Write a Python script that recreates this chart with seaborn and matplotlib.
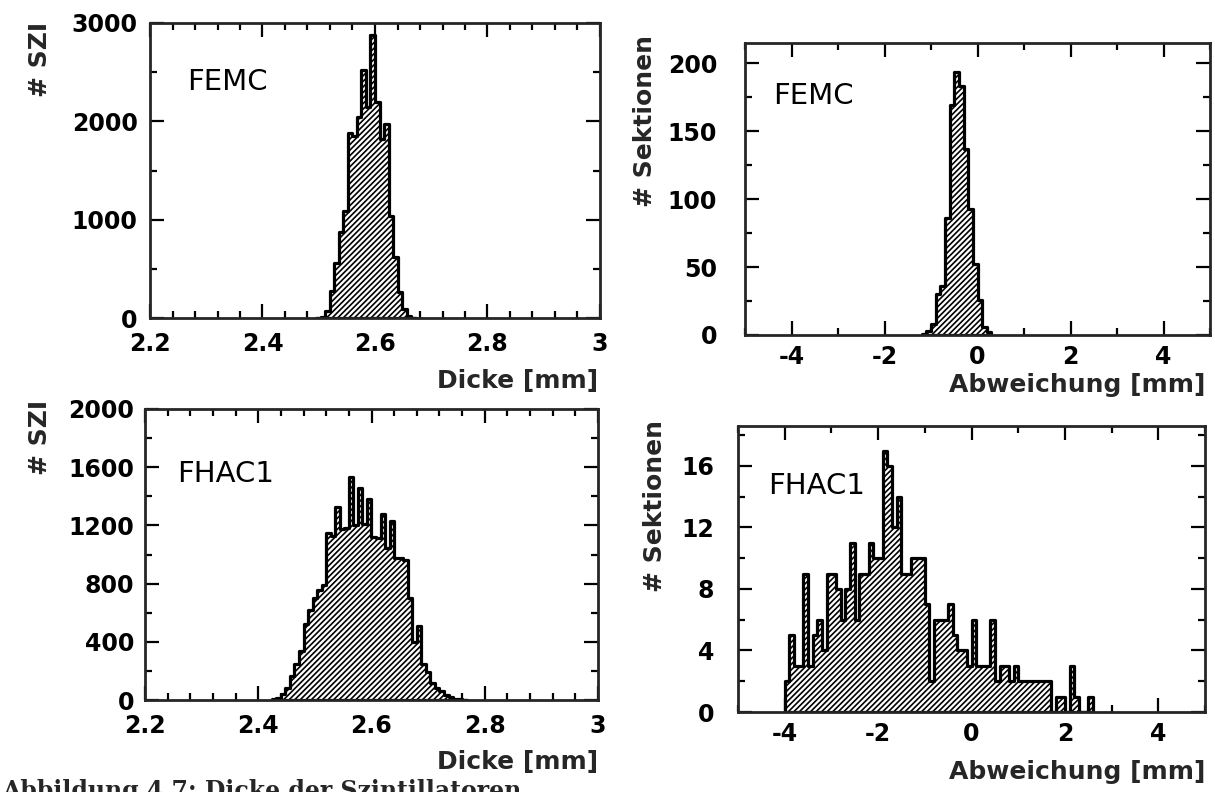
import numpy as np
import pandas as pd
import matplotlib
matplotlib.use("Agg")
import matplotlib.pyplot as plt
from matplotlib.ticker import MultipleLocator, FuncFormatter
import seaborn as sns

# histogram binning (100 bins over the axis range)
DICKE_BIN = 0.008
ABW_BIN = 0.1

# FEMC: thickness of the scintillators, counts per bin starting at femc_dicke_start
femc_dicke_start = 2.496
femc_dicke_counts = [0, 15, 70, 270, 560, 870, 1090, 1880, 1850, 2040, 2520, 2150,
                     2880, 2200, 1820, 1970, 1040, 620, 260, 90, 20, 5]

# FEMC: deviation per section
femc_abw_start = -1.2
femc_abw_counts = [1, 3, 8, 30, 36, 86, 169, 194, 183, 137, 93, 52, 26, 6, 2]

# FHAC1: thickness of the scintillators
fhac_dicke_start = 2.424
fhac_dicke_counts = [5, 15, 40, 83, 165, 246, 339, 524, 617, 698, 756, 790,
                     1150, 1130, 1324, 1173, 1180, 1533, 1200, 1460, 1210, 1380,
                     1120, 1110, 1280, 1046, 1231, 976, 976, 960, 698, 396, 512,
                     250, 190, 120, 85, 60, 37, 20, 8, 4, 2]

# FHAC1: deviation per section
fhac_abw_start = -4.0
fhac_abw_counts = [2, 5, 3, 3, 9, 3, 5, 6, 4, 9, 9, 8, 6, 8, 11, 6, 9, 9, 11, 10,
                   10, 17, 16, 12, 14, 9, 9, 10, 10, 10, 7, 2, 6, 6, 6, 7, 5, 4, 4, 3,
                   6, 3, 3, 3, 6, 2, 3, 3, 2, 3, 2, 2, 2, 2, 2, 2, 2, 0, 1, 1,
                   0, 3, 1, 0, 0, 1]

sns.set_style("ticks")
plt.rcParams["font.family"] = ["DejaVu Sans"]
plt.rcParams["font.weight"] = "bold"
plt.rcParams["hatch.linewidth"] = 1.2
plt.rcParams["axes.linewidth"] = 2.0

W, H = 1215, 792
fig = plt.figure(figsize=(W / 100, H / 100), dpi=100)


def px_axes(x0, y0, x1, y1):
    # axes box given in pixel coordinates (top-left origin)
    return fig.add_axes([x0 / W, 1 - y1 / H, (x1 - x0) / W, (y1 - y0) / H])


def draw_hist(ax, start, width, counts):
    n = len(counts)
    df = pd.DataFrame({
        "x": start + width * (np.arange(n) + 0.5),
        "w": np.asarray(counts, dtype=float),
    })
    sns.histplot(data=df, x="x", weights="w", binwidth=width,
                 binrange=(start, start + width * n), element="step", fill=True,
                 facecolor="white", edgecolor="black", hatch="//////",
                 linewidth=2.3, ax=ax)


def style_axes(ax, xlim, ylim, xmaj, xmin, ymaj, ymin, xpad, ypad):
    ax.set_xlim(xlim)
    ax.set_ylim(ylim)
    ax.xaxis.set_major_locator(MultipleLocator(xmaj))
    ax.xaxis.set_minor_locator(MultipleLocator(xmin))
    ax.yaxis.set_major_locator(MultipleLocator(ymaj))
    ax.yaxis.set_minor_locator(MultipleLocator(ymin))
    ax.xaxis.set_major_formatter(FuncFormatter(lambda v, p: f"{v:g}"))
    ax.tick_params(which="both", direction="in", top=True, right=True,
                   width=1.6, labelsize=17, colors="black")
    ax.tick_params(which="major", length=10)
    ax.tick_params(which="minor", length=5)
    ax.tick_params(axis="x", pad=xpad)
    ax.tick_params(axis="y", pad=ypad)
    ax.set_xlabel("")
    ax.set_ylabel("")
    for s in ax.spines.values():
        s.set_linewidth(2.0)
        s.set_visible(True)


ax_tl = px_axes(150, 23, 600, 318)
draw_hist(ax_tl, femc_dicke_start, DICKE_BIN, femc_dicke_counts)
style_axes(ax_tl, (2.2, 3.0), (0, 3000), 0.2, 0.04, 1000, 500, 10, 9)
ax_tl.text(0.082, 0.80, "FEMC", transform=ax_tl.transAxes, fontsize=21,
           fontweight="normal", va="center", color="black")

ax_tr = px_axes(745, 43, 1210, 335)
draw_hist(ax_tr, femc_abw_start, ABW_BIN, femc_abw_counts)
style_axes(ax_tr, (-5, 5), (0, 215), 2, 1, 50, 25, 7, 20)
ax_tr.text(0.06, 0.82, "FEMC", transform=ax_tr.transAxes, fontsize=21,
           fontweight="normal", va="center", color="black")

ax_bl = px_axes(145, 409, 598, 700)
draw_hist(ax_bl, fhac_dicke_start, DICKE_BIN, fhac_dicke_counts)
style_axes(ax_bl, (2.2, 3.0), (0, 2000), 0.2, 0.04, 400, 200, 10, 8)
ax_bl.text(0.07, 0.777, "FHAC1", transform=ax_bl.transAxes, fontsize=21,
           fontweight="normal", va="center", color="black")

ax_br = px_axes(738, 426, 1205, 712)
draw_hist(ax_br, fhac_abw_start, ABW_BIN, fhac_abw_counts)
style_axes(ax_br, (-5, 5), (0, 18.6), 2, 1, 4, 2, 7, 17)
ax_br.text(0.065, 0.79, "FHAC1", transform=ax_br.transAxes, fontsize=21,
           fontweight="normal", va="center", color="black")

# axis titles placed like the original (x titles right-aligned under the axes)
fig.text(598 / W, 1 - 381 / H, "Dicke [mm]", ha="right", va="center", fontsize=18)
fig.text(1205 / W, 1 - 385 / H, "Abweichung [mm]", ha="right", va="center", fontsize=18)
fig.text(598 / W, 1 - 762 / H, "Dicke [mm]", ha="right", va="center", fontsize=18)
fig.text(1205 / W, 1 - 772 / H, "Abweichung [mm]", ha="right", va="center", fontsize=18)

fig.text(40 / W, 1 - 22 / H, "# SZI", rotation=90, ha="center", va="top", fontsize=18)
fig.text(645 / W, 1 - 35 / H, "# Sektionen", rotation=90, ha="center", va="top", fontsize=18)
fig.text(40 / W, 1 - 400 / H, "# SZI", rotation=90, ha="center", va="top", fontsize=18)
fig.text(655 / W, 1 - 420 / H, "# Sektionen", rotation=90, ha="center", va="top", fontsize=18)

# caption, cut off at the lower edge as in the scan
fig.text(2 / W, 1 - 779 / H, "Abbildung 4.7: Dicke der Szintillatoren", ha="left", va="top",
         fontsize=17, family="DejaVu Serif", fontweight="bold")

fig.savefig("out.png", dpi=100)
